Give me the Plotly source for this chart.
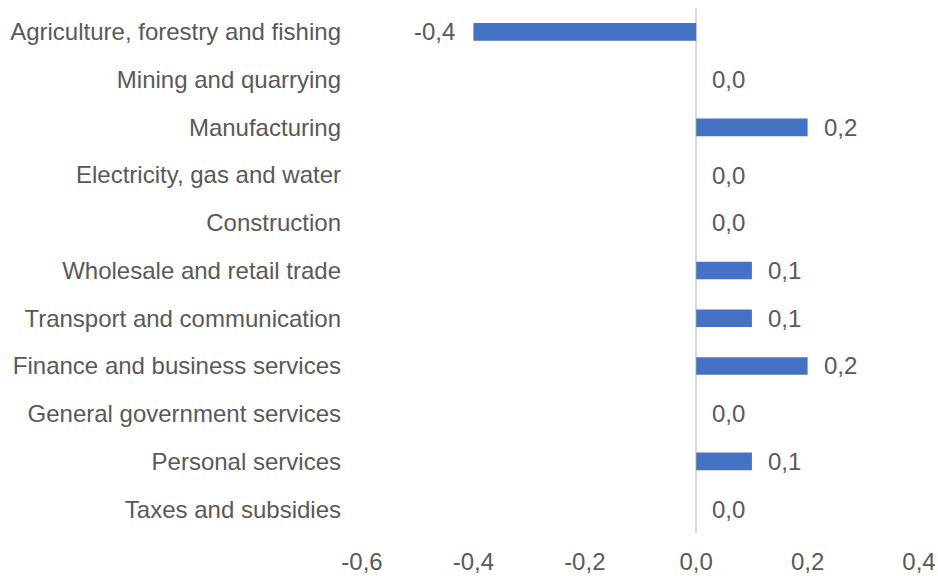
import plotly.graph_objects as go

# Contribution by industry (percentage points)
industries = [
    "Agriculture, forestry and fishing",
    "Mining and quarrying",
    "Manufacturing",
    "Electricity, gas and water",
    "Construction",
    "Wholesale and retail trade",
    "Transport and communication",
    "Finance and business services",
    "General government services",
    "Personal services",
    "Taxes and subsidies",
]
contributions = [-0.4, 0.0, 0.2, 0.0, 0.0, 0.1, 0.1, 0.2, 0.0, 0.1, 0.0]
x_ticks = [-0.6, -0.4, -0.2, 0.0, 0.2, 0.4]

TEXT = "#595959"
FONT = "Liberation Sans, Arial, sans-serif"


def fmt(v):
    # comma decimal separator, plain hyphen for negatives
    return f"{v:.1f}".replace(".", ",")


fig = go.Figure(
    go.Bar(
        x=contributions,
        y=industries,
        orientation="h",
        marker=dict(color="#4472C4", line=dict(width=0)),
        width=0.37,
        hoverinfo="x+y",
    )
)

# value labels beside each bar
annotations = []
for name, v in zip(industries, contributions):
    neg = v < 0
    annotations.append(
        dict(
            x=v,
            y=name,
            xref="x",
            yref="y",
            text=fmt(v),
            showarrow=False,
            xanchor="right" if neg else "left",
            xshift=-16 if neg else 14,
            font=dict(size=24, color=TEXT, family=FONT),
        )
    )

fig.update_layout(
    width=938,
    height=576,
    margin=dict(l=362, r=19, t=8, b=43),
    paper_bgcolor="white",
    plot_bgcolor="white",
    showlegend=False,
    font=dict(family=FONT, size=24, color=TEXT),
    annotations=annotations,
    xaxis=dict(
        range=[-0.6, 0.4],
        tickvals=x_ticks,
        ticktext=[fmt(t) for t in x_ticks],
        showgrid=False,
        showline=False,
        zeroline=True,
        zerolinecolor="#d9d9d9",
        zerolinewidth=2,
        ticks="",
        ticklabelstandoff=12,
        automargin=False,
        tickfont=dict(size=24, color=TEXT),
    ),
    yaxis=dict(
        autorange="reversed",
        showgrid=False,
        showline=False,
        zeroline=False,
        ticks="",
        ticklabelstandoff=20,
        automargin=False,
        tickfont=dict(size=24, color=TEXT),
    ),
)

fig.write_html("out.html")
